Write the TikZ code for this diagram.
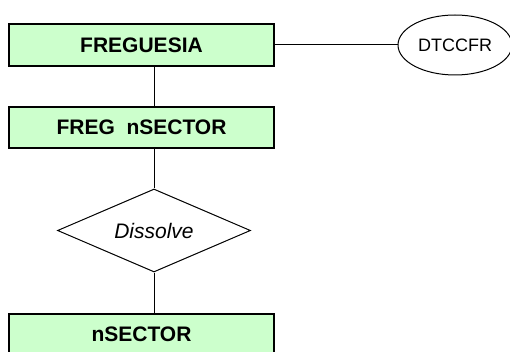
\documentclass[tikz,border=0pt]{standalone}
\usepackage{fontspec}
\setmainfont{Liberation Sans}
\usetikzlibrary{shapes.geometric}
\definecolor{boxgreen}{HTML}{CCFFCC}
\tikzset{
  entbox/.style={draw=black, fill=boxgreen, line width=1.6pt, minimum width=265pt, minimum height=41pt, inner sep=0pt, font=\fontsize{21}{24}\selectfont\bfseries},
  relshape/.style={draw=black, diamond, aspect=2.33, line width=1pt, minimum width=193pt, minimum height=83pt, inner sep=0pt, font=\fontsize{21}{24}\selectfont\itshape},
  attrshape/.style={draw=black, ellipse, line width=1pt, minimum width=114pt, minimum height=60pt, inner sep=0pt, font=\fontsize{18}{21}\selectfont},
  conn/.style={draw=black, line width=1pt}
}
\begin{document}
\begin{tikzpicture}[x=1pt,y=-1pt]
\useasboundingbox (0,0) rectangle (510,352);
\clip (0,0) rectangle (510,352);
\node[entbox, minimum height=42pt] (b1) at (141.5,45) {FREGUESIA};
\node[entbox] (b2) at (141.5,127.5) {FREG\ \ nSECTOR};
\node[relshape] (d) at (154,230.5) {Dissolve};
\node[entbox] (b3) at (141.5,334.5) {nSECTOR};
\node[attrshape] (e) at (455,45) {DTCCFR};
\draw[conn] (b1.east) -- (e.west);
\draw[conn] (b1.south -| d.north) -- (b2.north -| d.north);
\draw[conn] (b2.south -| d.north) -- (d.north);
\draw[conn] (d.south) -- (b3.north -| d.south);
\end{tikzpicture}
\end{document}
